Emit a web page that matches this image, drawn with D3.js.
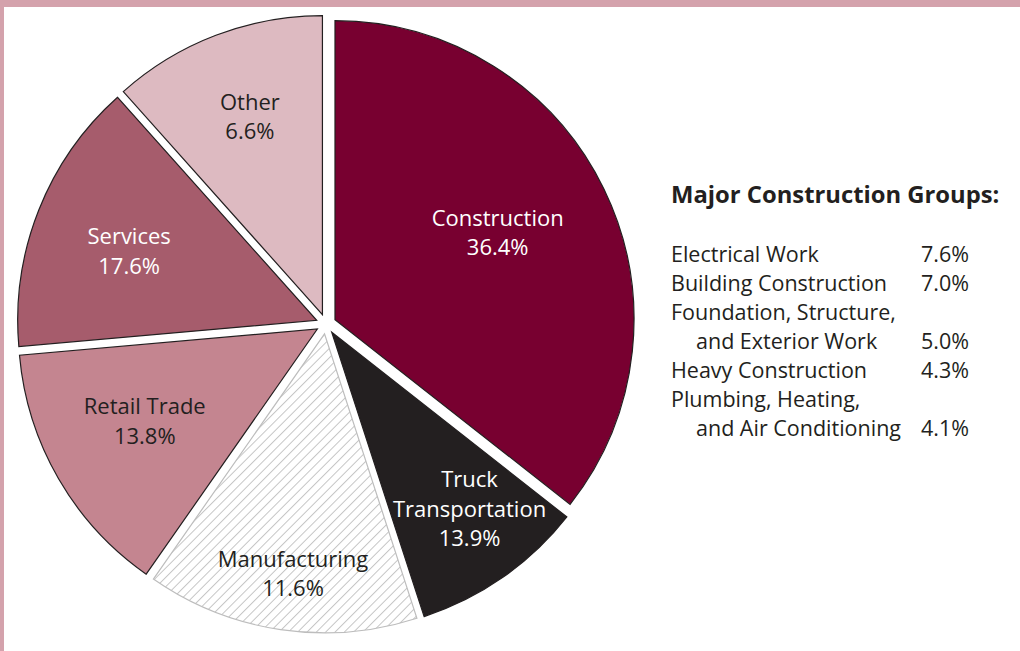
<!DOCTYPE html>
<html>
<head>
<meta charset="utf-8">
<script src="https://cdn.jsdelivr.net/npm/d3@7"></script>
<style>
  body { margin: 0; background: #fff; }
  svg { display: block; }
  text { font-family: "Open Sans", "Noto Sans", sans-serif; }
</style>
</head>
<body>
<div id="chart"></div>
<script>
// slice names (one entry per text line), drawn share of the circle, printed label
var categories = [['Construction'], ['Truck', 'Transportation'], ['Manufacturing'], ['Retail Trade'], ['Services'], ['Other']]
var shares = [35.6, 9.4, 14.7, 13.9, 14.8, 11.6]
var percentLabels = ['36.4%', '13.9%', '11.6%', '13.8%', '17.6%', '6.6%']

// right hand list
var groupTitle = 'Major Construction Groups:'
var groups = [['Electrical Work'], ['Building Construction'], ['Foundation, Structure,', 'and Exterior Work'],
  ['Heavy Construction'], ['Plumbing, Heating,', 'and Air Conditioning']]
var groupValues = ['7.6%', '7.0%', '5.0%', '4.3%', '4.1%']

var width = 1020
var height = 651

var center = { x: 326, y: 324 }
var radius = 299
var explode = 10
var lineHeight = 29.5

var fills = ['#780030', '#231f20', 'url(#hatch)', '#c48590', '#a65c6c', '#ddbac1']
var strokes = ['#231f20', '#231f20', '#bdbdbd', '#231f20', '#231f20', '#231f20']
var textColors = ['#fff', '#fff', '#231f20', '#231f20', '#fff', '#231f20']
// where each label sits: fraction of radius, and a small turn off the mid angle (degrees)
var labelFrac = [0.605, 0.771, 0.835, 0.667, 0.66, 0.681]
var labelTurn = [0, -1.8, -1.2, 0, -3.5, 0]

var svg = d3.select('#chart').append('svg')
  .attr('width', width)
  .attr('height', height)

svg.append('rect')
  .attr('width', width)
  .attr('height', height)
  .attr('fill', '#fff')

var defs = svg.append('defs')
var hatch = defs.append('pattern')
  .attr('id', 'hatch')
  .attr('patternUnits', 'userSpaceOnUse')
  .attr('width', 6.6)
  .attr('height', 6.6)
  .attr('patternTransform', 'rotate(45)')
hatch.append('rect')
  .attr('width', 6.6)
  .attr('height', 6.6)
  .attr('fill', '#fff')
hatch.append('line')
  .attr('x1', 0.5).attr('y1', 0)
  .attr('x2', 0.5).attr('y2', 6.6)
  .attr('stroke', '#b8b8b8')
  .attr('stroke-width', 0.8)

// pink frame on top and left
svg.append('rect')
  .attr('x', 0).attr('y', 0)
  .attr('width', width).attr('height', 7)
  .attr('fill', '#d4a2ac')
svg.append('rect')
  .attr('x', 0).attr('y', 0)
  .attr('width', 4).attr('height', height)
  .attr('fill', '#d4a2ac')

var pie = d3.pie().sort(null).value(function (d) { return d })
var arcs = pie(shares)

var arc = d3.arc()
  .innerRadius(0)
  .outerRadius(radius)

var pieG = svg.append('g')
  .attr('transform', 'translate(' + center.x + ',' + center.y + ')')

var slices = pieG.selectAll('g.slice')
  .data(arcs)
  .join('g')
  .attr('class', 'slice')
  .attr('transform', function (d) {
    var a = (d.startAngle + d.endAngle) / 2
    return 'translate(' + (explode * Math.sin(a)) + ',' + (-explode * Math.cos(a)) + ')'
  })

slices.append('path')
  .attr('d', arc)
  .attr('fill', function (d, i) { return fills[i] })
  .attr('stroke', function (d, i) { return strokes[i] })
  .attr('stroke-width', 1.2)
  .attr('stroke-linejoin', 'miter')

slices.each(function (d, i) {
  var a = (d.startAngle + d.endAngle) / 2 + labelTurn[i] * Math.PI / 180
  var r = radius * labelFrac[i]
  var lines = categories[i].concat([percentLabels[i]])
  var t = d3.select(this).append('text')
    .attr('text-anchor', 'middle')
    .attr('font-size', 22)
    .attr('fill', textColors[i])
  lines.forEach(function (s, k) {
    t.append('tspan')
      .attr('x', r * Math.sin(a))
      .attr('y', -r * Math.cos(a) + (k - (lines.length - 1) / 2) * lineHeight)
      .text(s)
  })
})

// list of construction groups
var listX = 671
var valueX = 969
var listG = svg.append('g')

listG.append('text')
  .attr('x', listX)
  .attr('y', 203)
  .attr('font-size', 23.8)
  .attr('font-weight', 'bold')
  .attr('fill', '#231f20')
  .text(groupTitle)

var row = 0
var rowTop = 262
var rowStep = 29
groups.forEach(function (g, i) {
  g.forEach(function (s, k) {
    listG.append('text')
      .attr('x', listX + (k > 0 ? 25 : 0))
      .attr('y', rowTop + row * rowStep)
      .attr('font-size', 21.5)
      .attr('fill', '#231f20')
      .text(s)
    if (k === g.length - 1) {
      listG.append('text')
        .attr('x', valueX)
        .attr('y', rowTop + row * rowStep)
        .attr('text-anchor', 'end')
        .attr('font-size', 21.5)
        .attr('fill', '#231f20')
        .text(groupValues[i])
    }
    row++
  })
})
</script>
</body>
</html>
